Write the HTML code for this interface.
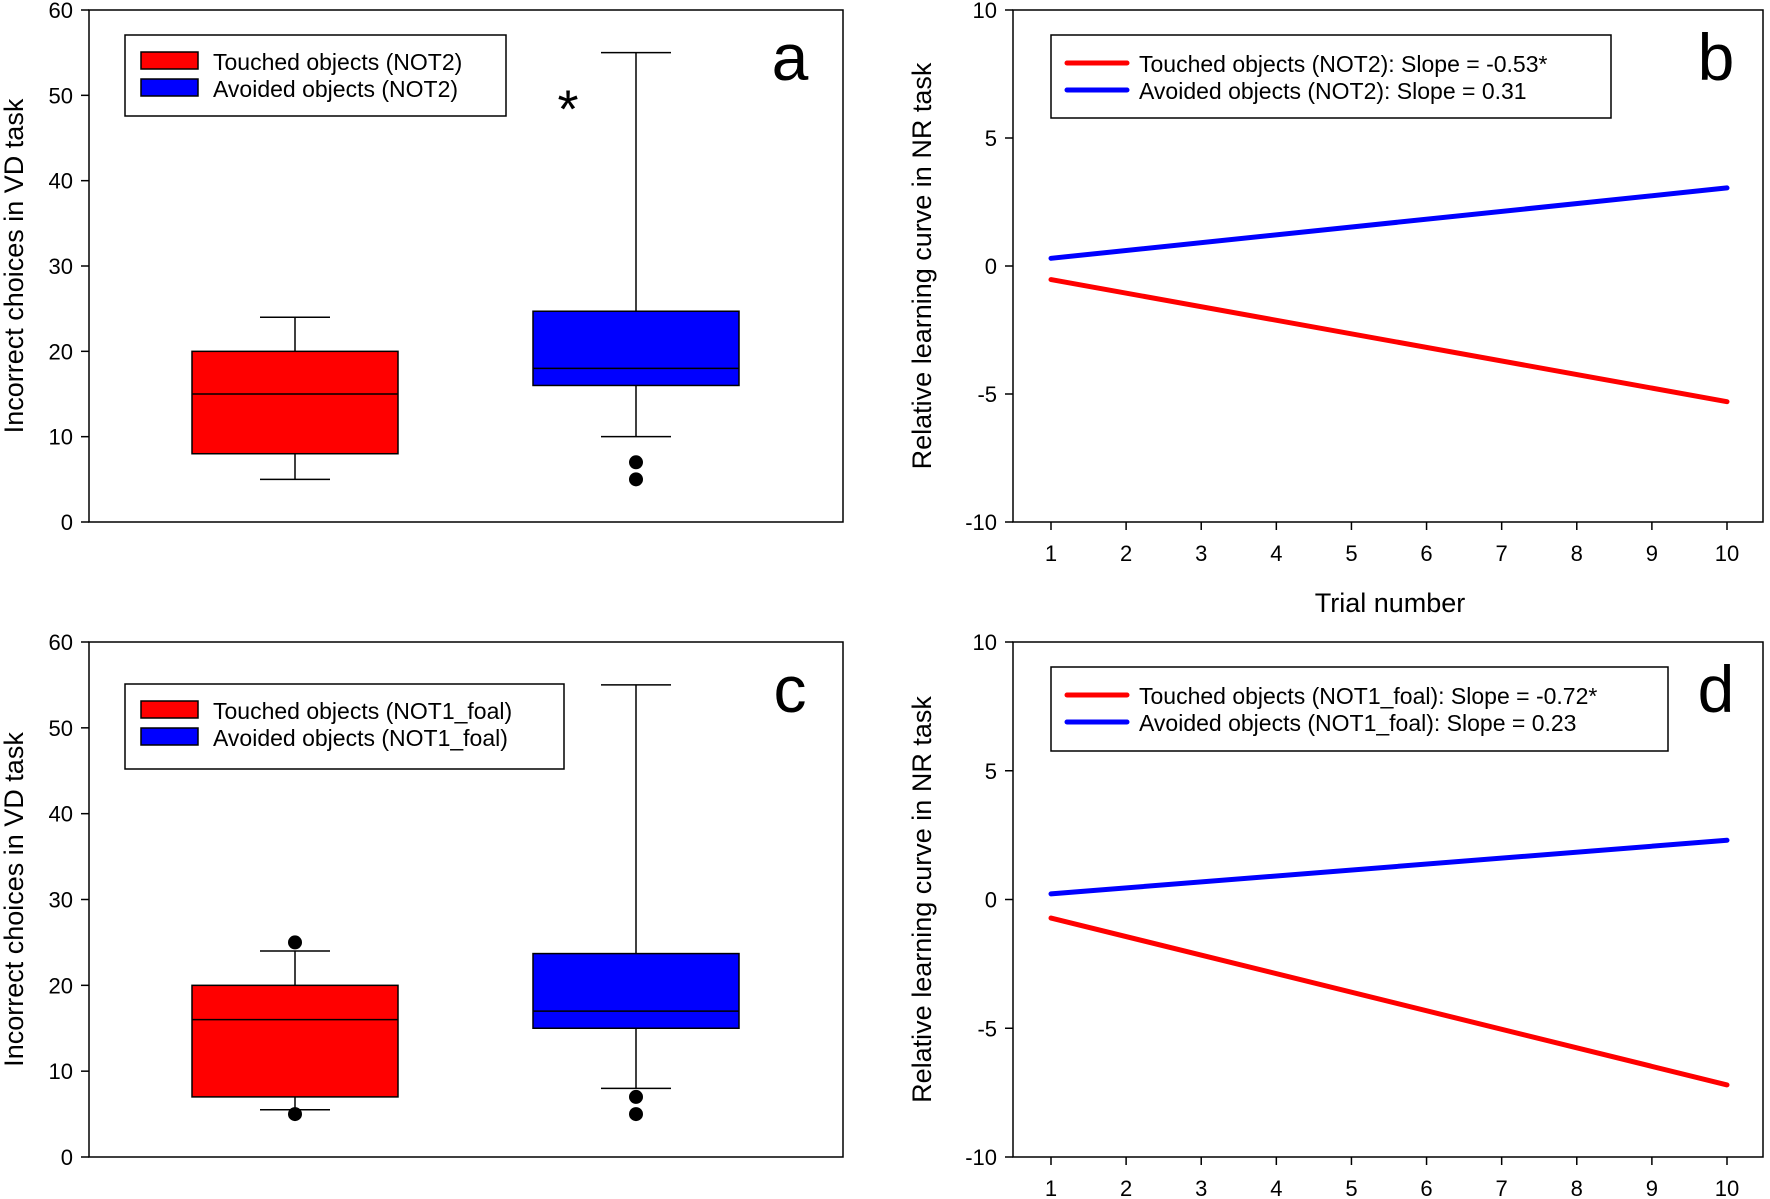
<!DOCTYPE html>
<html><head><meta charset="utf-8"><style>
html,body{margin:0;padding:0;background:#fff;}
svg{display:block;font-family:"Liberation Sans",Arial,sans-serif;}
</style></head><body>
<svg id="fig" width="1770" height="1199" viewBox="0 0 1770 1199" xmlns="http://www.w3.org/2000/svg"></svg>
<script>
// Box plot data: [whiskerLow, q1, median, q3, whiskerHigh]
const boxA_touched = [5, 8, 15, 20, 24];
const boxA_avoided = [10, 16, 18, 24.7, 55];
const boxA_touchedOutliers = [];
const boxA_avoidedOutliers = [7, 5];
const boxC_touched = [5.5, 7, 16, 20, 24];
const boxC_avoided = [8, 15, 17, 23.7, 55];
const boxC_touchedOutliers = [25, 5];
const boxC_avoidedOutliers = [7, 5];
const boxYTicks = [0, 10, 20, 30, 40, 50, 60];
// Line data: values at trial 1 and trial 10
const trialEnds = [1, 10];
const lineB_touched = [-0.53, -5.3];
const lineB_avoided = [0.3, 3.05];
const lineD_touched = [-0.72, -7.2];
const lineD_avoided = [0.22, 2.3];
const lineXTicks = [1,2,3,4,5,6,7,8,9,10];
const lineYTicks = [-10, -5, 0, 5, 10];

const NS = "http://www.w3.org/2000/svg";
const svg = document.getElementById('fig');
function mk(tag, attrs, parent, text){
  const e = document.createElementNS(NS, tag);
  for (const k in attrs) e.setAttribute(k, attrs[k]);
  if (text !== undefined) e.textContent = text;
  (parent || svg).appendChild(e);
  return e;
}

function boxPanel(id, top, bottom, touched, avoided, tOut, aOut, legT, legA, legBox, letter, star){
  const L = 89, R = 843;
  const g = mk('g', {});
  
  
  const y = v => bottom - (v / 60) * (bottom - top);
  const frame = mk('rect', {x:L, y:top, width:R-L, height:bottom-top, fill:'none', stroke:'#000', 'stroke-width':1.5}, g);
  
  
  boxYTicks.forEach(t => {
    mk('line', {x1:L-8, x2:L, y1:y(t), y2:y(t), stroke:'#000', 'stroke-width':1.5}, g);
    const tl = mk('text', {x:L-16, y:y(t)+8, 'text-anchor':'end', 'font-size':22}, g, String(t));
    
    
  });
  const yt = mk('text', {transform:`translate(23 ${(top+bottom)/2}) rotate(-90)`, 'text-anchor':'middle', 'font-size':27}, g, 'Incorrect choices in VD task');
  
  
  const drawBox = (d, outs, cx, color, name) => {
    const bg = mk('g', {}, g);
    
    
    const hw = 103, cw = 35;
    mk('line', {x1:cx, x2:cx, y1:y(d[0]), y2:y(d[1]), stroke:'#000', 'stroke-width':1.5}, bg);
    mk('line', {x1:cx, x2:cx, y1:y(d[3]), y2:y(d[4]), stroke:'#000', 'stroke-width':1.5}, bg);
    mk('line', {x1:cx-cw, x2:cx+cw, y1:y(d[0]), y2:y(d[0]), stroke:'#000', 'stroke-width':1.5}, bg);
    mk('line', {x1:cx-cw, x2:cx+cw, y1:y(d[4]), y2:y(d[4]), stroke:'#000', 'stroke-width':1.5}, bg);
    mk('rect', {x:cx-hw, y:y(d[3]), width:2*hw, height:y(d[1])-y(d[3]), fill:color, stroke:'#000', 'stroke-width':1.5}, bg);
    mk('line', {x1:cx-hw, x2:cx+hw, y1:y(d[2]), y2:y(d[2]), stroke:'#000', 'stroke-width':1.5}, bg);
    outs.forEach(o => {
      const c = mk('ellipse', {cx:cx, cy:y(o), rx:7, ry:7, fill:'#000'}, bg);
      
      
    });
  };
  drawBox(touched, tOut, 295, '#ff0000', 'box-touched');
  drawBox(avoided, aOut, 636, '#0000ff', 'box-avoided');
  const lg = mk('g', {}, g);
  
  
  mk('rect', {x:125, y:legBox[0], width:legBox[2], height:legBox[1], fill:'#fff', stroke:'#000', 'stroke-width':1.5}, lg);
  const ly = legBox[0] + 27;
  mk('rect', {x:141, y:ly-10, width:57, height:17, fill:'#ff0000', stroke:'#000', 'stroke-width':1.5}, lg);
  mk('rect', {x:141, y:ly+17, width:57, height:17, fill:'#0000ff', stroke:'#000', 'stroke-width':1.5}, lg);
  const e1 = mk('text', {x:213, y:ly+8, 'font-size':23}, lg, legT);
  
  
  const e2 = mk('text', {x:213, y:ly+35, 'font-size':23}, lg, legA);
  
  
  const lt = mk('text', {x:790, y:top+70, 'text-anchor':'middle', 'font-size':66}, g, letter);
  
  
  if (star) {
    const s = mk('text', {x:568, y:y(49.5)+28, 'text-anchor':'middle', 'font-size':54}, g, '*');
    
    
  }
}

function linePanel(id, top, bottom, touched, avoided, legT, legA, legBox, letter, xTitle){
  const L = 1013, R = 1763;
  const g = mk('g', {});
  
  
  const x = v => 1051 + (v - 1) / 9 * (1727 - 1051);
  const y = v => bottom - (v + 10) / 20 * (bottom - top);
  const frame = mk('rect', {x:L, y:top, width:R-L, height:bottom-top, fill:'none', stroke:'#000', 'stroke-width':1.5}, g);
  
  
  lineYTicks.forEach(t => {
    mk('line', {x1:L-8, x2:L, y1:y(t), y2:y(t), stroke:'#000', 'stroke-width':1.5}, g);
    const tl = mk('text', {x:L-16, y:y(t)+8, 'text-anchor':'end', 'font-size':22}, g, String(t));
    
    
  });
  lineXTicks.forEach(t => {
    mk('line', {x1:x(t), x2:x(t), y1:bottom, y2:bottom+8, stroke:'#000', 'stroke-width':1.5}, g);
    const tl = mk('text', {x:x(t), y:bottom+39, 'text-anchor':'middle', 'font-size':22}, g, String(t));
    
    
  });
  const yt = mk('text', {transform:`translate(931 ${(top+bottom)/2}) rotate(-90)`, 'text-anchor':'middle', 'font-size':27}, g, 'Relative learning curve in NR task');
  
  
  if (xTitle) {
    const xt = mk('text', {x:1390, y:bottom+90, 'text-anchor':'middle', 'font-size':27}, g, 'Trial number');
    
    
  }
  const l1 = mk('line', {x1:x(trialEnds[0]), y1:y(touched[0]), x2:x(trialEnds[1]), y2:y(touched[1]), stroke:'#ff0000', 'stroke-width':5, 'stroke-linecap':'round'}, g);
  
  
  const l2 = mk('line', {x1:x(trialEnds[0]), y1:y(avoided[0]), x2:x(trialEnds[1]), y2:y(avoided[1]), stroke:'#0000ff', 'stroke-width':5, 'stroke-linecap':'round'}, g);
  
  
  const lg = mk('g', {}, g);
  
  
  mk('rect', {x:1051, y:legBox[0], width:legBox[2], height:legBox[1], fill:'#fff', stroke:'#000', 'stroke-width':1.5}, lg);
  const ly = legBox[0] + 28;
  mk('line', {x1:1067, x2:1127, y1:ly, y2:ly, stroke:'#ff0000', 'stroke-width':5, 'stroke-linecap':'round'}, lg);
  mk('line', {x1:1067, x2:1127, y1:ly+27, y2:ly+27, stroke:'#0000ff', 'stroke-width':5, 'stroke-linecap':'round'}, lg);
  const e1 = mk('text', {x:1139, y:ly+9, 'font-size':23}, lg, legT);
  
  
  const e2 = mk('text', {x:1139, y:ly+36, 'font-size':23}, lg, legA);
  
  
  const lt = mk('text', {x:1716, y:top+70, 'text-anchor':'middle', 'font-size':66}, g, letter);
  
  
}

boxPanel('a', 10, 522, boxA_touched, boxA_avoided, boxA_touchedOutliers, boxA_avoidedOutliers,
  'Touched objects (NOT2)', 'Avoided objects (NOT2)', [35, 81, 381], 'a', true);
boxPanel('c', 642, 1157, boxC_touched, boxC_avoided, boxC_touchedOutliers, boxC_avoidedOutliers,
  'Touched objects (NOT1_foal)', 'Avoided objects (NOT1_foal)', [684, 85, 439], 'c', false);
linePanel('b', 10, 522, lineB_touched, lineB_avoided,
  'Touched objects (NOT2): Slope = -0.53*', 'Avoided objects (NOT2): Slope = 0.31', [35, 83, 560], 'b', true);
linePanel('d', 642, 1157, lineD_touched, lineD_avoided,
  'Touched objects (NOT1_foal): Slope = -0.72*', 'Avoided objects (NOT1_foal): Slope = 0.23', [667, 84, 617], 'd', false);
</script>
</body></html>
